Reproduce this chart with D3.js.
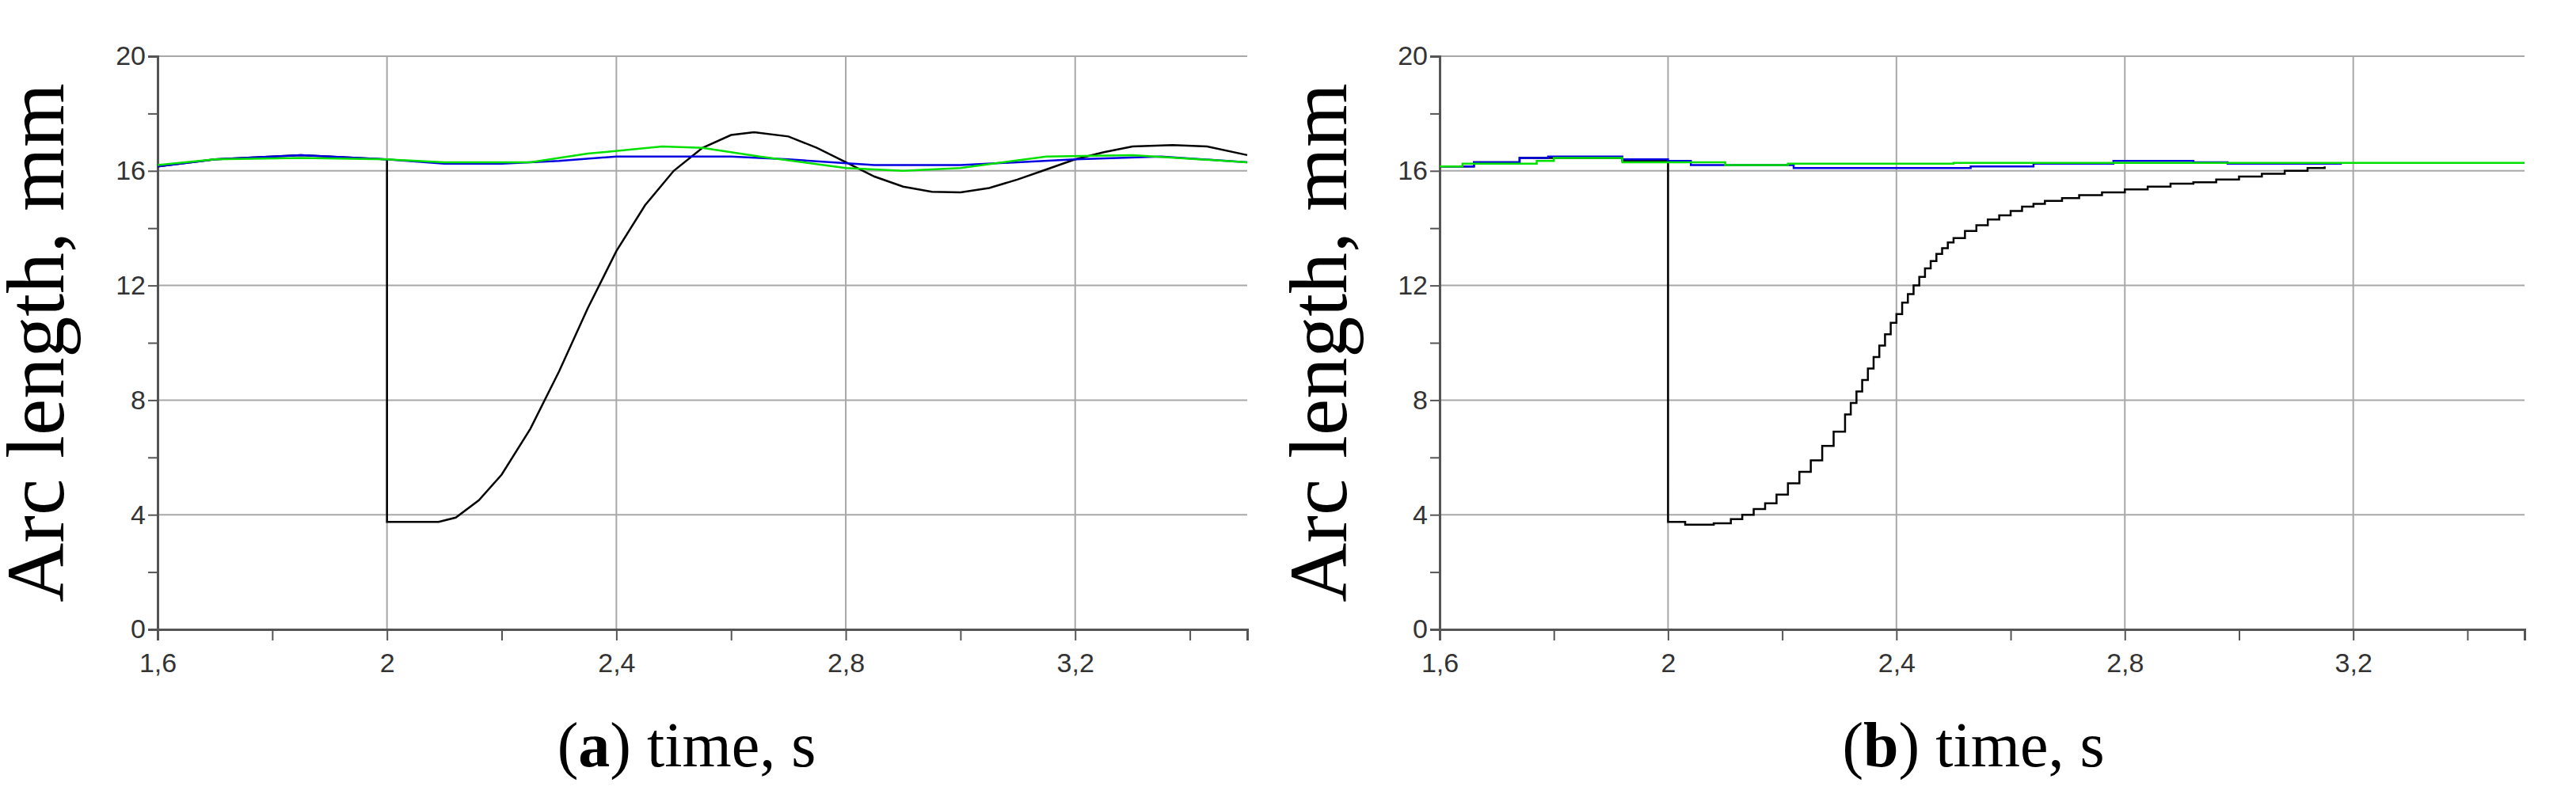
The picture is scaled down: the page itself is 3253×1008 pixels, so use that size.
<!DOCTYPE html>
<html><head><meta charset="utf-8">
<script src="https://cdn.jsdelivr.net/npm/d3@7"></script>
<style>body{margin:0;background:#fff}</style></head>
<body><div id="chart"></div>
<script>
const xTicks = [1.6, 2, 2.4, 2.8, 3.2];
const xTickLabels = ["1,6", "2", "2,4", "2,8", "3,2"];
const yTicks = [0, 4, 8, 12, 16, 20];

// panel (a): [time, arc length]
const blackA = [[1.6,16.15],[1.7,16.4],[1.8,16.5],[1.85,16.55],[1.9,16.5],[2.0,16.4],[2.0,3.75],[2.09,3.75],[2.12,3.9],[2.16,4.5],[2.2,5.4],[2.25,7.0],[2.3,9.0],[2.35,11.2],[2.4,13.2],[2.45,14.8],[2.5,16.0],[2.55,16.8],[2.6,17.25],[2.64,17.35],[2.7,17.2],[2.75,16.8],[2.8,16.3],[2.85,15.8],[2.9,15.45],[2.95,15.27],[3.0,15.25],[3.05,15.4],[3.1,15.7],[3.15,16.05],[3.2,16.4],[3.25,16.65],[3.3,16.85],[3.37,16.9],[3.43,16.85],[3.5,16.55]];
const blueA = [[1.6,16.15],[1.7,16.4],[1.85,16.55],[2.0,16.4],[2.1,16.25],[2.2,16.25],[2.3,16.35],[2.4,16.5],[2.6,16.5],[2.7,16.4],[2.85,16.2],[3.0,16.2],[3.2,16.4],[3.35,16.5],[3.5,16.3]];
const greenA = [[1.6,16.2],[1.7,16.4],[1.85,16.45],[2.0,16.4],[2.1,16.3],[2.25,16.3],[2.35,16.6],[2.48,16.85],[2.55,16.8],[2.65,16.5],[2.8,16.1],[2.9,16.0],[3.0,16.1],[3.15,16.5],[3.3,16.55],[3.5,16.3]];

// panel (b): stepped
const blackB = [[1.6,16.15],[1.66,16.3],[1.74,16.45],[1.92,16.35],[2.0,16.35],[2.0,3.75],[2.03,3.65],[2.08,3.7],[2.11,3.85],[2.13,4.0],[2.15,4.2],[2.17,4.4],[2.19,4.7],[2.21,5.1],[2.23,5.5],[2.25,5.9],[2.27,6.4],[2.29,6.9],[2.31,7.5],[2.32,7.9],[2.33,8.3],[2.34,8.7],[2.35,9.1],[2.36,9.5],[2.37,9.9],[2.38,10.3],[2.39,10.7],[2.4,11.0],[2.41,11.4],[2.42,11.7],[2.43,12.0],[2.44,12.3],[2.45,12.6],[2.46,12.85],[2.47,13.1],[2.48,13.3],[2.49,13.5],[2.5,13.65],[2.52,13.9],[2.54,14.1],[2.56,14.3],[2.58,14.45],[2.6,14.6],[2.62,14.75],[2.64,14.85],[2.66,14.95],[2.69,15.05],[2.72,15.15],[2.76,15.25],[2.8,15.35],[2.84,15.45],[2.88,15.55],[2.92,15.6],[2.96,15.7],[3.0,15.8],[3.04,15.9],[3.08,16.0],[3.12,16.1],[3.15,16.15]];
const blueB = [[1.6,16.15],[1.66,16.3],[1.74,16.45],[1.79,16.5],[1.92,16.4],[2.0,16.35],[2.04,16.2],[2.22,16.1],[2.53,16.15],[2.64,16.25],[2.78,16.35],[2.92,16.3],[2.98,16.25],[3.18,16.25]];
const greenB = [[1.6,16.15],[1.64,16.25],[1.77,16.35],[1.8,16.45],[1.92,16.3],[2.1,16.2],[2.21,16.25],[2.5,16.28],[3.5,16.28]];

const W = 3253, H = 1008;
const svg = d3.select("#chart").append("svg").attr("width", W).attr("height", H);

function panel(x0, x1, y0, y1, lines, curve, letter, labelX, captionX) {
  const x = d3.scaleLinear().domain([1.6, 3.5]).range([x0, x1]);
  const y = d3.scaleLinear().domain([0, 20]).range([y1, y0]);
  const g = svg.append("g");

  // grid
  g.selectAll(".gx").data(xTicks.slice(1)).join("line")
    .attr("x1", d => x(d)).attr("x2", d => x(d)).attr("y1", y0).attr("y2", y1)
    .attr("stroke", "#a8a8a8").attr("stroke-width", 2);
  g.selectAll(".gy").data(yTicks.slice(1)).join("line")
    .attr("x1", x0).attr("x2", x1).attr("y1", d => y(d)).attr("y2", d => y(d))
    .attr("stroke", "#a8a8a8").attr("stroke-width", 2);

  const xAxis = d3.axisBottom(x).tickValues(d3.range(1.6, 3.51, 0.2)).tickSize(14)
    .tickFormat(d => { const i = xTicks.findIndex(t => Math.abs(t - d) < 1e-6); return i >= 0 ? xTickLabels[i] : ""; });
  const ax = g.append("g").attr("transform", `translate(0,${y1})`).call(xAxis);
  const yAxis = d3.axisLeft(y).tickValues(d3.range(0, 20.1, 2)).tickSize(12)
    .tickFormat(d => yTicks.includes(d) ? d : "");
  const ay = g.append("g").attr("transform", `translate(${x0},0)`).call(yAxis);
  [ax, ay].forEach(a => {
    a.select(".domain").attr("stroke", "#555").attr("stroke-width", 3);
    a.selectAll(".tick line").attr("stroke", "#555").attr("stroke-width", 2);
    a.selectAll("text").attr("font-family", "Liberation Sans Narrow, Liberation Sans, Arial, sans-serif")
      .attr("font-size", 34).attr("fill", "#333");
  });
  ax.selectAll("text").attr("dy", "1.1em");

  const line = d3.line().x(d => x(d[0])).y(d => y(d[1])).curve(curve);
  lines.forEach(([data, color]) => {
    g.append("path").attr("d", line(data)).attr("fill", "none")
      .attr("stroke", color).attr("stroke-width", 2.5);
  });

  svg.append("text").attr("transform", `translate(${labelX},${(y0 + y1) / 2}) rotate(-90)`)
    .attr("text-anchor", "middle").attr("font-family", "Liberation Serif, serif")
    .attr("font-size", 104).text("Arc length, mm");
  const cap = svg.append("text").attr("x", captionX).attr("y", 968).attr("text-anchor", "middle")
    .attr("font-family", "Liberation Serif, serif").attr("font-size", 80);
  cap.append("tspan").text("(");
  cap.append("tspan").attr("font-weight", "bold").text(letter);
  cap.append("tspan").text(") time, s");
}

panel(199, 1575, 71, 795, [[blackA, "#000"], [blueA, "#0000e0"], [greenA, "#00e000"]], d3.curveLinear, "a", 80, 867);
panel(1818, 3188, 71, 795, [[blackB, "#000"], [blueB, "#0000e0"], [greenB, "#00e000"]], d3.curveStepAfter, "b", 1700, 2492);
</script></body></html>
